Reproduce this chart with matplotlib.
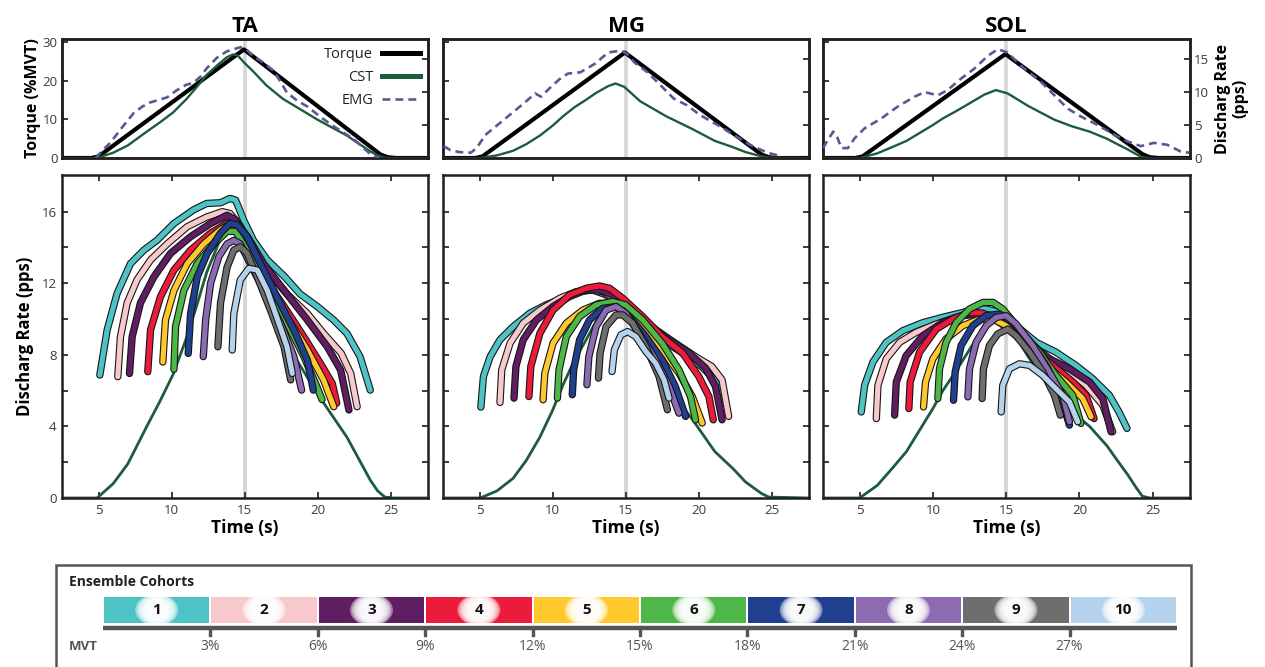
import matplotlib
matplotlib.use("Agg")
import matplotlib.pyplot as plt
import matplotlib.patheffects as pe
from matplotlib.lines import Line2D
from matplotlib.patches import Rectangle, Ellipse

plt.rcParams["font.family"] = ["Open Sans", "DejaVu Sans"]

# -- data ---------------------------------------------------------------------
MUSCLES = ["TA", "MG", "SOL"]
COHORT_COLORS = ["#4ec3c6", "#f8c9cc", "#5f1d62", "#ec1b3b", "#ffc92e",
                 "#4db848", "#213f8f", "#8d6bb2", "#6e6e6e", "#b5d3ec"]
COHORT_LABELS = ["1", "2", "3", "4", "5", "6", "7", "8", "9", "10"]
MVT_EDGES = [0, 3, 6, 9, 12, 15, 18, 21, 24, 27, 30]
MVT_TICK_LABELS = ["3%", "6%", "9%", "12%", "15%", "18%", "21%", "24%", "27%"]

# torque (% MVT) vs time (s)
TA_TORQUE = [(2.5, 0), (4.5, 0), (5.0, 0.4), (14.95, 28.1), (24.3, 0.9),
             (24.8, 0.2), (25.4, 0), (27.55, 0)]
MG_TORQUE = [(2.5, 0), (4.7, 0), (5.2, 0.4), (14.95, 27.3), (24.3, 0.9),
             (24.8, 0.2), (25.4, 0), (27.55, 0)]
SOL_TORQUE = [(2.5, 0), (4.7, 0), (5.2, 0.4), (14.95, 26.9), (24.3, 1.0),
              (24.8, 0.2), (25.4, 0), (27.55, 0)]

# cumulative spike train (pps)
TA_CST = [(2.5, 0), (4.9, 0), (6.0, 0.8), (7.0, 1.9), (8.3, 4.0), (9.2, 5.4),
          (10.1, 6.9), (11.0, 8.9), (11.7, 10.7), (12.4, 12.6), (13.2, 14.2),
          (13.8, 15.3), (14.2, 15.7), (14.5, 15.6), (15.0, 14.4), (15.6, 13.1),
          (16.5, 11.0), (17.6, 9.0), (18.8, 7.4), (20.0, 5.8), (21.0, 4.6),
          (22.0, 3.4), (23.0, 1.9), (23.6, 1.0), (24.1, 0.4), (24.6, 0.05),
          (25.2, 0), (27.55, 0)]
MG_CST = [(2.5, 0), (5.05, 0), (6.2, 0.4), (7.3, 1.1), (8.2, 2.1), (9.13, 3.4),
          (10.0, 4.9), (10.7, 6.3), (11.5, 7.7), (12.2, 8.7), (13.0, 9.9),
          (13.8, 10.9), (14.3, 11.3), (14.9, 10.8), (16.0, 8.6), (17.8, 6.3),
          (19.56, 4.4), (21.1, 2.6), (22.4, 1.6), (23.2, 0.9), (24.3, 0.25),
          (24.8, 0.05), (27.55, 0)]
SOL_CST = [(2.5, 0), (5.0, 0), (6.2, 0.7), (7.27, 1.7), (8.2, 2.6), (9.1, 3.8),
           (10.0, 5.0), (10.68, 6.0), (11.5, 7.0), (12.2, 7.9), (13.5, 9.6),
           (14.3, 10.3), (15.1, 9.8), (16.5, 7.9), (18.3, 5.8), (19.5, 4.8),
           (20.7, 4.0), (21.9, 2.9), (22.5, 2.2), (23.3, 1.3), (23.9, 0.55),
           (24.3, 0.1), (24.8, 0), (27.55, 0)]

# EMG (right axis units)
TA_EMG = [(4.8, 0.0), (5.3, 1.2), (5.8, 2.3), (6.6, 4.6), (7.4, 6.8), (8.0, 7.8),
          (8.5, 8.4), (9.1, 8.8), (9.7, 9.2), (10.3, 10.2), (11.0, 11.1),
          (11.5, 11.4), (12.0, 12.4), (12.4, 13.6), (13.1, 15.2), (13.8, 16.2),
          (14.7, 16.8), (15.1, 16.5), (15.6, 15.4), (16.2, 14.6), (17.0, 13.2),
          (17.5, 11.4), (17.9, 9.9), (18.6, 8.7), (19.3, 7.8), (20.2, 6.2),
          (21.1, 4.8), (21.8, 3.8), (22.5, 2.8), (23.1, 1.6), (23.6, 0.6),
          (24.2, 0.0)]
MG_EMG = [(2.55, 1.8), (3.0, 1.2), (3.6, 0.9), (4.4, 0.8), (4.8, 1.5), (5.4, 3.5),
          (6.5, 5.5), (7.6, 7.5), (8.4, 9.0), (8.8, 9.8), (9.2, 9.3), (9.9, 10.8),
          (10.5, 12.0), (11.05, 12.8), (11.9, 13.0), (12.9, 14.3), (13.8, 16.0),
          (14.7, 16.3), (15.1, 15.8), (15.6, 14.5), (16.5, 13.0), (17.4, 11.0),
          (18.3, 9.0), (19.2, 8.0), (20.1, 6.5), (21.3, 5.0), (22.4, 3.5),
          (23.5, 2.0), (24.7, 0.8), (25.6, 0.3)]
SOL_EMG = [(2.5, 1.5), (2.85, 2.8), (3.2, 4.0), (3.5, 3.0), (3.75, 1.5),
           (4.2, 1.5), (4.66, 3.0), (5.34, 4.5), (6.48, 6.0), (7.6, 7.8),
           (8.75, 9.3), (9.43, 10.0), (10.34, 9.5), (11.0, 10.3), (11.9, 12.0),
           (12.8, 13.5), (13.75, 15.5), (14.43, 16.5), (15.1, 16.0), (16.0, 14.0),
           (17.4, 11.5), (18.3, 9.5), (19.2, 7.5), (20.1, 6.3), (21.25, 5.0),
           (22.4, 3.5), (23.3, 2.5), (24.2, 1.8), (25.1, 2.3), (26.0, 2.0),
           (26.9, 1.0), (27.5, 0.8)]

# ensemble cohort discharge rates (time s, pps), cohorts 1..10
TA_COHORTS = [
    [(5.09, 6.87), (5.59, 9.39), (6.27, 11.43), (7.19, 13.1), (8.1, 13.85),
     (9.0, 14.4), (10.16, 15.34), (11.5, 16.1), (12.4, 16.46), (13.35, 16.5),
     (14.0, 16.74), (14.38, 16.65), (14.95, 15.5), (15.6, 14.4), (16.55, 13.3),
     (17.7, 12.4), (18.8, 11.4), (19.97, 10.7), (21.1, 9.94), (22.0, 9.2),
     (22.9, 7.9), (23.6, 6.03)],
    [(6.32, 6.78), (6.5, 9.0), (6.96, 10.9), (7.64, 12.2), (8.56, 13.3),
     (9.7, 14.2), (11.07, 15.16), (12.4, 15.7), (13.47, 16.0), (14.0, 15.9),
     (14.7, 15.2), (15.6, 13.85), (16.55, 12.7), (17.9, 11.4), (19.3, 10.3),
     (20.4, 9.2), (21.6, 8.1), (22.26, 6.96), (22.7, 5.1)],
    [(7.12, 6.96), (7.3, 9.0), (7.87, 10.9), (8.79, 12.36), (9.93, 13.67),
     (11.3, 14.6), (12.67, 15.34), (13.8, 15.8), (14.26, 15.6), (15.2, 14.6),
     (16.3, 13.1), (17.7, 11.6), (19.3, 9.94), (20.66, 8.45), (21.57, 7.15),
     (22.14, 4.92)],
    [(8.37, 7.06), (8.56, 9.39), (9.24, 11.25), (10.16, 12.74), (11.3, 13.85),
     (12.67, 14.8), (13.8, 15.35), (14.26, 15.25), (15.17, 14.04), (16.3, 12.36),
     (17.7, 10.7), (19.06, 9.0), (20.2, 7.5), (21.0, 6.4), (21.3, 5.3)],
    [(9.4, 7.6), (9.58, 9.94), (10.16, 11.6), (11.07, 13.1), (12.2, 14.2),
     (13.35, 15.0), (14.0, 15.3), (14.5, 15.15), (15.4, 13.67), (16.55, 12.0),
     (17.9, 10.1), (19.3, 8.27), (20.4, 6.6), (21.1, 5.1)],
    [(10.16, 7.19), (10.27, 9.57), (10.84, 11.6), (11.76, 13.1), (12.9, 14.2),
     (13.8, 14.9), (14.38, 14.9), (15.17, 13.85), (16.3, 12.2), (17.7, 10.1),
     (19.06, 7.9), (19.85, 6.4), (20.3, 5.5)],
    [(11.14, 8.08), (11.3, 10.3), (11.76, 12.36), (12.44, 13.67), (13.35, 14.8),
     (14.0, 15.35), (14.5, 15.25), (15.17, 14.6), (16.08, 13.1), (17.2, 11.25),
     (18.37, 9.39), (19.3, 7.7), (19.7, 6.03)],
    [(12.17, 7.9), (12.33, 9.94), (12.67, 12.0), (13.24, 13.5), (13.8, 14.2),
     (14.26, 14.4), (14.7, 14.2), (15.6, 12.74), (16.55, 11.25), (17.46, 9.76),
     (18.37, 7.9), (18.9, 6.03)],
    [(13.17, 8.45), (13.35, 10.9), (13.8, 12.9), (14.26, 13.85), (14.7, 14.04),
     (15.17, 13.67), (15.86, 12.36), (16.77, 10.5), (17.7, 8.45), (18.15, 6.6)],
    [(14.15, 8.27), (14.26, 10.3), (14.7, 12.18), (15.29, 12.83), (15.86, 12.74),
     (16.55, 11.6), (17.2, 10.1), (17.9, 8.45), (18.26, 6.96)],
]
MG_COHORTS = [
    [(5.09, 5.08), (5.27, 6.8), (5.73, 7.9), (6.4, 8.84), (7.31, 9.58),
     (8.45, 10.33), (9.58, 10.8), (10.71, 11.16), (11.85, 11.53), (12.76, 11.63),
     (13.66, 11.35), (14.34, 11.07), (15.25, 10.5), (16.38, 9.58), (17.5, 8.84),
     (18.9, 8.1), (20.2, 7.35), (21.1, 6.6), (21.7, 5.5)],
    [(6.4, 5.34), (6.52, 7.16), (7.09, 8.65), (7.99, 9.77), (9.13, 10.5),
     (10.49, 11.16), (11.62, 11.53), (12.53, 11.63), (13.43, 11.53),
     (14.57, 10.98), (15.7, 10.33), (17.06, 9.4), (18.4, 8.65), (19.78, 7.9),
     (20.9, 7.35), (21.6, 6.6), (22.05, 4.56)],
    [(7.36, 5.58), (7.49, 7.35), (7.99, 8.84), (8.9, 9.95), (10.03, 10.7),
     (11.17, 11.26), (12.3, 11.63), (13.2, 11.63), (14.1, 11.35), (15.25, 10.6),
     (16.6, 9.67), (17.97, 8.84), (19.33, 8.1), (20.47, 7.26), (21.15, 6.23),
     (21.6, 4.37)],
    [(8.38, 5.67), (8.51, 7.35), (9.13, 9.2), (10.03, 10.5), (11.17, 11.35),
     (12.3, 11.72), (13.2, 11.85), (13.9, 11.72), (14.8, 11.16), (16.16, 10.14),
     (17.5, 9.02), (18.9, 8.1), (20.0, 6.8), (20.7, 5.67), (21.0, 4.37)],
    [(9.35, 5.49), (9.47, 6.98), (10.03, 8.65), (10.94, 9.77), (12.07, 10.5),
     (13.2, 10.88), (14.1, 10.88), (15.0, 10.5), (16.16, 9.58), (17.5, 8.28),
     (18.65, 6.98), (19.56, 5.67), (20.24, 4.19)],
    [(10.33, 5.58), (10.44, 7.16), (10.94, 9.02), (11.85, 10.14), (12.98, 10.79),
     (14.1, 10.98), (15.0, 10.79), (16.16, 9.95), (17.5, 8.65), (18.65, 7.16),
     (19.44, 5.67), (19.78, 4.37)],
    [(11.35, 5.77), (11.44, 7.16), (11.85, 8.84), (12.53, 9.95), (13.43, 10.6),
     (14.34, 10.7), (15.25, 10.14), (16.38, 9.02), (17.5, 7.72), (18.4, 6.23),
     (19.1, 4.56)],
    [(12.35, 6.33), (12.48, 7.9), (12.98, 9.58), (13.66, 10.5), (14.34, 10.7),
     (15.0, 10.33), (15.93, 9.2), (17.06, 7.72), (17.97, 6.23), (18.65, 4.74)],
    [(13.14, 6.7), (13.25, 8.09), (13.66, 9.58), (14.34, 10.23), (14.8, 10.23),
     (15.48, 9.77), (16.38, 8.47), (17.29, 6.79), (17.86, 4.93)],
    [(14.07, 7.07), (14.23, 8.28), (14.68, 9.12), (15.14, 9.3), (15.7, 9.02),
     (16.38, 8.19), (17.06, 7.53), (17.63, 6.6), (17.97, 5.58)],
]
SOL_COHORTS = [
    [(5.11, 4.81), (5.34, 6.3), (5.91, 7.6), (6.82, 8.7), (7.95, 9.35),
     (9.32, 9.8), (10.68, 10.1), (12.05, 10.37), (12.95, 10.6), (13.64, 10.56),
     (14.55, 10.37), (15.68, 9.63), (17.05, 8.7), (18.4, 8.15), (19.77, 7.4),
     (20.9, 6.67), (22.05, 5.74), (22.7, 4.81), (23.25, 3.89)],
    [(6.14, 4.44), (6.25, 6.3), (6.82, 7.78), (7.73, 8.7), (8.86, 9.26),
     (10.23, 9.72), (11.6, 10.1), (12.95, 10.37), (13.86, 10.19), (15.23, 9.44),
     (16.6, 8.52), (17.95, 7.78), (19.32, 7.04), (20.45, 6.3), (21.6, 5.19),
     (22.27, 3.7)],
    [(7.39, 4.63), (7.5, 6.48), (8.18, 7.96), (9.32, 9.07), (10.68, 9.81),
     (12.05, 10.19), (13.18, 10.28), (14.1, 10.19), (15.23, 9.63), (16.6, 8.7),
     (17.95, 7.78), (19.32, 7.22), (20.7, 6.48), (21.6, 5.56), (22.16, 3.7)],
    [(8.36, 5.0), (8.45, 6.48), (9.09, 8.15), (10.23, 9.44), (11.36, 10.0),
     (12.5, 10.37), (13.41, 10.33), (14.32, 10.0), (15.45, 9.26), (16.82, 8.33),
     (18.18, 7.41), (19.55, 6.48), (20.45, 5.74), (21.0, 4.44)],
    [(9.36, 5.09), (9.5, 6.48), (10.0, 7.78), (10.9, 8.89), (12.05, 9.63),
     (13.18, 10.0), (14.1, 10.0), (15.0, 9.63), (16.36, 8.52), (17.73, 7.41),
     (19.09, 6.48), (20.23, 5.56), (20.8, 4.54)],
    [(10.34, 5.56), (10.45, 7.22), (10.9, 8.7), (11.6, 9.81), (12.5, 10.56),
     (13.41, 10.93), (14.1, 10.93), (14.77, 10.56), (15.9, 9.44), (17.27, 8.15),
     (18.4, 6.85), (19.55, 5.74), (20.1, 4.17)],
    [(11.41, 5.46), (11.52, 7.04), (11.93, 8.52), (12.73, 9.63), (13.64, 10.19),
     (14.55, 10.28), (15.45, 9.81), (16.6, 8.7), (17.73, 7.41), (18.64, 5.93),
     (19.32, 4.07)],
    [(12.39, 5.65), (12.5, 7.22), (12.95, 8.7), (13.64, 9.63), (14.32, 10.09),
     (15.0, 10.19), (15.68, 9.72), (16.82, 8.52), (17.95, 7.04), (18.86, 5.74),
     (19.32, 4.26)],
    [(13.36, 5.56), (13.45, 7.22), (13.86, 8.52), (14.43, 9.17), (15.11, 9.44),
     (15.68, 9.07), (16.6, 8.15), (17.5, 7.04), (18.3, 5.74), (18.7, 4.63)],
    [(14.66, 4.81), (14.77, 6.3), (15.23, 7.22), (15.9, 7.5), (16.6, 7.41),
     (17.5, 6.85), (18.4, 6.11), (19.32, 5.37), (19.89, 4.26)],
]

TORQUE = [TA_TORQUE, MG_TORQUE, SOL_TORQUE]
CST = [TA_CST, MG_CST, SOL_CST]
EMG = [TA_EMG, MG_EMG, SOL_EMG]
COHORTS = [TA_COHORTS, MG_COHORTS, SOL_COHORTS]

# -- styling ------------------------------------------------------------------
W, H = 1265, 667
SPINE = "#231f20"
TICKC = "#3a3a3a"
CST_COLOR = "#1c5b3c"
EMG_COLOR = "#5b5794"
RAMP_COLOR = "#d6d6d6"
XLIM = (2.5, 27.55)
COLS = [(62, 428), (443, 809), (823, 1190)]

fig = plt.figure(figsize=(W / 100, H / 100), dpi=100)
fig.patch.set_facecolor("white")


def px_axes(left, top, right, bottom):
    return fig.add_axes([left / W, 1 - bottom / H, (right - left) / W,
                         (bottom - top) / H])


def xy(points):
    return [p[0] for p in points], [p[1] for p in points]


def style_spines(ax):
    for s in ax.spines.values():
        s.set_color(SPINE)
        s.set_linewidth(1.8)


for i, name in enumerate(MUSCLES):
    left, right = COLS[i]

    # ---- top panel: torque, CST, EMG ----
    ax = px_axes(left, 39, right, 158)
    ax.axvline(15, color=RAMP_COLOR, lw=2.6, zorder=1)
    tx, ty = xy(TORQUE[i])
    ax.plot(tx, ty, color="black", lw=3.0, zorder=3,
            solid_joinstyle="round")
    ax.set_xlim(*XLIM)
    ax.set_ylim(0, 30.8)
    ax.set_yticks([0, 10, 20, 30])
    ax.set_xticks([])
    ax.tick_params(axis="y", direction="in", length=4, width=1.4,
                   colors=TICKC, labelsize=9.5, pad=3,
                   labelleft=(i == 0))
    style_spines(ax)
    ax.set_title(name, fontsize=16, fontweight="bold", pad=5)
    if i == 0:
        ax.set_ylabel("Torque (%MVT)", fontsize=11.5, fontweight="bold",
                      labelpad=1)

    tw = ax.twinx()
    cx, cy = xy(CST[i])
    tw.plot(cx, cy, color=CST_COLOR, lw=1.7, zorder=2)
    ex, ey = xy(EMG[i])
    tw.plot(ex, ey, color=EMG_COLOR, lw=1.9, dashes=(3.0, 1.9), zorder=4)
    tw.set_xlim(*XLIM)
    tw.set_ylim(0, 18.05)
    tw.set_yticks([0, 5, 10, 15])
    tw.tick_params(axis="y", direction="in", length=4, width=1.4,
                   colors=TICKC, labelsize=9.5, pad=3,
                   labelright=(i == 2))
    style_spines(tw)
    if i == 2:
        tw.set_ylabel("Discharg Rate\n(pps)", fontsize=11.5,
                      fontweight="bold", labelpad=4, linespacing=1.1)
    if i == 0:
        handles = [
            Line2D([0], [0], color="black", lw=3.6, label="Torque"),
            Line2D([0], [0], color=CST_COLOR, lw=3.6, label="CST"),
            Line2D([0], [0], color=EMG_COLOR, lw=1.9, dashes=(3.0, 1.9),
                   label="EMG"),
        ]
        leg = tw.legend(handles=handles, loc="upper right", frameon=False,
                        markerfirst=False, fontsize=10.5, handlelength=2.6,
                        labelspacing=0.55, borderaxespad=0.15,
                        handletextpad=0.6)
        for t in leg.get_texts():
            t.set_color("#222222")

    # ---- bottom panel: ensemble cohorts ----
    bx = px_axes(left, 175, right, 498)
    bx.axvline(15, color=RAMP_COLOR, lw=2.8, zorder=1)
    cx, cy = xy(CST[i])
    bx.plot(cx, cy, color=CST_COLOR, lw=2.0, zorder=2)
    for k, pts in enumerate(COHORTS[i]):
        px, py = xy(pts)
        bx.plot(px, py, color=COHORT_COLORS[k], lw=3.7, zorder=3 + k,
                solid_capstyle="round", solid_joinstyle="round",
                path_effects=[pe.Stroke(linewidth=5.3, foreground="#151515",
                                        capstyle="round", joinstyle="round"),
                              pe.Normal()])
    bx.set_xlim(*XLIM)
    bx.set_ylim(0, 18.05)
    bx.set_xticks([5, 10, 15, 20, 25])
    bx.set_yticks(range(0, 18, 2))
    if i == 0:
        bx.set_yticklabels([str(v) if v % 4 == 0 else "" for v in range(0, 18, 2)])
        bx.set_ylabel("Discharg Rate (pps)", fontsize=12, fontweight="bold",
                      labelpad=5)
    else:
        bx.set_yticklabels([])
    bx.tick_params(direction="in", length=4, width=1.4, colors=TICKC,
                   labelsize=9.5, top=True, right=True, pad=4)
    bx.set_xlabel("Time (s)", fontsize=12.5, fontweight="bold", labelpad=2)
    style_spines(bx)

# ---- cohort legend ----
box = Rectangle((56 / W, -0.05), (1191 - 56) / W, 0.05 + (667 - 565) / H,
                transform=fig.transFigure, fill=False, edgecolor="#555555",
                lw=1.8, clip_on=False)
fig.add_artist(box)

lax = px_axes(103, 572, 1177, 660)
lax.set_xlim(MVT_EDGES[0], MVT_EDGES[-1])
lax.set_ylim(660, 572)
lax.axis("off")
for k in range(len(COHORT_LABELS)):
    x0, x1 = MVT_EDGES[k], MVT_EDGES[k + 1]
    lax.bar(x0 + 0.03, 26, width=(x1 - x0) - 0.06, bottom=597, align="edge",
            color=COHORT_COLORS[k], edgecolor="none", zorder=1)
    cxm = (x0 + x1) / 2
    for j in range(7):
        lax.add_patch(Ellipse((cxm, 610), width=1.2 - j * 0.1,
                              height=32 - j * 1.5, color="white", alpha=0.4,
                              lw=0, zorder=2))
    lax.text(cxm, 610.5, COHORT_LABELS[k], ha="center", va="center",
             fontsize=11, fontweight="bold", color="#111111", zorder=3)

lax.plot([MVT_EDGES[0], MVT_EDGES[-1]], [628, 628], color="#555555", lw=3.2,
         solid_capstyle="butt", zorder=2)
for v, lab in zip(MVT_EDGES[1:-1], MVT_TICK_LABELS):
    lax.plot([v, v], [628, 635], color="#555555", lw=2.4, zorder=2)
    lax.text(v, 647, lab, ha="center", va="center", fontsize=10,
             color="#555555")
lax.text(-0.95, 647, "MVT", ha="left", va="center", fontsize=9.5,
         fontweight="bold", color="#555555")
lax.text(-0.95, 582, "Ensemble Cohorts", ha="left", va="center",
         fontsize=10, fontweight="bold", color="#222222")

fig.savefig("out.png", dpi=100, facecolor="white")
